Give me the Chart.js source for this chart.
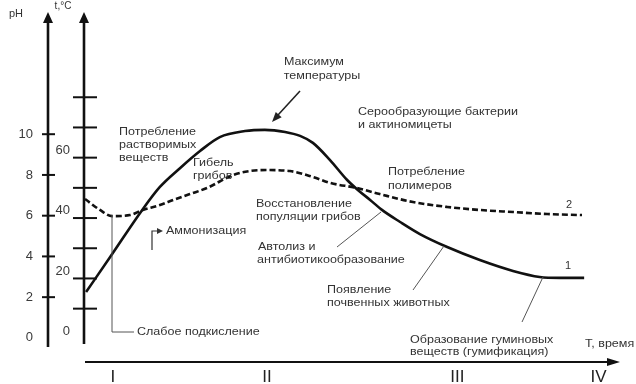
<!DOCTYPE html>
<html>
<head>
<meta charset="utf-8">
<script src="https://cdn.jsdelivr.net/npm/chart.js@4.4.1/dist/chart.umd.min.js"></script>
<style>
html,body{margin:0;padding:0;background:#fff;}
canvas{display:block;}
</style>
</head>
<body>
<canvas id="c" width="636" height="384"></canvas>
<script>
// ---- data ----
// curve 1: temperature, t °C, against time (arbitrary units 0..100)
const timeT = [0.2, 4.7, 10.7, 14.0, 17.8, 21.5, 25.2, 29.9, 33.6, 37.4, 40.2, 42.6, 45.8, 49.0, 51.0, 53.3, 55.5, 58.9, 62.6, 67.7, 73.8, 80.0, 85.0, 88.8, 93.3];
const temperature = [13.1, 24.7, 40.3, 47.9, 54.2, 59.8, 64.4, 66.4, 66.8, 66.1, 64.8, 62.5, 56.8, 50.2, 46.9, 43.6, 40.3, 36.3, 32.3, 28.0, 23.7, 20.1, 18.1, 17.8, 17.8];
// curve 2: pH against time
const timePH = [0.0, 2.8, 5.1, 8.4, 10.8, 14.0, 16.5, 19.6, 22.8, 27.7, 30.8, 34.0, 38.3, 42.6, 45.8, 50.8, 55.1, 61.3, 67.7, 73.8, 80.0, 86.4, 92.9];
const phValues = [6.82, 6.28, 5.98, 6.03, 6.28, 6.52, 6.77, 7.06, 7.36, 8.00, 8.19, 8.24, 8.19, 7.90, 7.61, 7.36, 7.06, 6.67, 6.43, 6.28, 6.18, 6.08, 6.03];
// axis tick labels
const phTickLabels = [0, 2, 4, 6, 8, 10];
const phTickMarks = [2, 4, 6, 8, 10];
const tTickLabels = [0, 20, 40, 60];
const tTickMarks = [7.6, 17.6, 27.6, 37.6, 47.6, 57.6, 67.6, 77.6];
const stages = ['I', 'II', 'III', 'IV'];
const stagePos = [5.2, 34.0, 69.6, 96.0];

// ---- layout / styling ----
const SX = 1.14; // horizontal stretch of annotation text
const FONT = '"Liberation Sans", Arial, sans-serif';
const notes = [
  ['Максимум', 314, 62, 'center'],
  ['температуры', 322, 76, 'center'],
  ['Серообразующие бактерии', 358, 112, 'left'],
  ['и актиномицеты', 358, 125, 'left'],
  ['Потребление', 119, 132, 'left'],
  ['растворимых', 119, 145, 'left'],
  ['веществ', 119, 158, 'left'],
  ['Гибель', 193, 163, 'left'],
  ['грибов', 193, 176, 'left'],
  ['Потребление', 388, 172, 'left'],
  ['полимеров', 388, 186, 'left'],
  ['Восстановление', 256, 204, 'left'],
  ['популяции грибов', 256, 217, 'left'],
  ['Аммонизация', 166, 231, 'left'],
  ['Автолиз и', 258, 247, 'left'],
  ['антибиотикообразование', 257, 260, 'left'],
  ['Появление', 327, 290, 'left'],
  ['почвенных животных', 327, 303, 'left'],
  ['Образование гуминовых', 410, 340, 'left'],
  ['веществ (гумификация)', 410, 352, 'left'],
  ['Слабое подкисление', 137, 332, 'left'],
  ['Т, время', 585, 344, 'left'],
  ['1', 568, 266, 'center'],
  ['2', 569, 205, 'center']
];

function stext(ctx, s, x, y, align, size, color, sx) {
  ctx.save();
  ctx.translate(x, y);
  ctx.scale(sx, 1);
  ctx.font = size + 'px ' + FONT;
  ctx.fillStyle = color;
  ctx.textAlign = align;
  ctx.textBaseline = 'middle';
  ctx.fillText(s, 0, 0);
  ctx.restore();
}
function line(ctx, pts, w, color) {
  ctx.save();
  ctx.strokeStyle = color; ctx.lineWidth = w;
  ctx.beginPath();
  ctx.moveTo(pts[0][0], pts[0][1]);
  for (let i = 1; i < pts.length; i++) ctx.lineTo(pts[i][0], pts[i][1]);
  ctx.stroke();
  ctx.restore();
}
function arrowHead(ctx, x, y, ang, len, half, color) {
  ctx.save();
  ctx.fillStyle = color;
  ctx.translate(x, y); ctx.rotate(ang);
  ctx.beginPath();
  ctx.moveTo(0, 0); ctx.lineTo(-len, -half); ctx.lineTo(-len, half); ctx.closePath();
  ctx.fill();
  ctx.restore();
}

const axesPlugin = {
  id: 'axesPlugin',
  beforeDatasetsDraw(chart) {
    const ctx = chart.ctx;
    const yT = chart.scales.yT, yP = chart.scales.yPH, xs = chart.scales.x;
    const area = chart.chartArea;
    const PX = 48, TX = area.left - 1;
    // pH axis
    line(ctx, [[PX, 347], [PX, 20]], 2.6, '#111');
    arrowHead(ctx, PX, 12, -Math.PI / 2, 11, 5, '#111');
    phTickMarks.forEach(v => {
      const y = yP.getPixelForValue(v);
      line(ctx, [[PX - 6, y], [PX + 7, y]], 2, '#111');
    });
    phTickLabels.forEach(v => {
      stext(ctx, String(v), 33, yP.getPixelForValue(v), 'right', 13, '#3a3a3a', 1);
    });
    // t axis
    line(ctx, [[TX, 344], [TX, 20]], 2.6, '#111');
    arrowHead(ctx, TX, 12, -Math.PI / 2, 11, 5, '#111');
    tTickMarks.forEach(v => {
      const y = yT.getPixelForValue(v);
      line(ctx, [[TX - 11, y], [TX + 13, y]], 2, '#111');
    });
    tTickLabels.forEach(v => {
      stext(ctx, String(v), 70, yT.getPixelForValue(v), 'right', 13, '#3a3a3a', 1);
    });
    stext(ctx, 'pH', 16, 14, 'center', 11, '#333', 1);
    stext(ctx, 't,°C', 63, 6, 'center', 10, '#333', 1);
    // time axis
    const yb = area.bottom;
    line(ctx, [[xs.getPixelForValue(0), yb], [area.right - 8, yb]], 2, '#111');
    arrowHead(ctx, area.right, yb, 0, 13, 4, '#111');
    stages.forEach((s, i) => {
      stext(ctx, s, xs.getPixelForValue(stagePos[i]), 377, 'center', 17, '#222', 1);
    });
  },
  afterDatasetsDraw(chart) {
    const ctx = chart.ctx;
    // pointer lines
    line(ctx, [[112, 215], [112, 332], [134, 332]], 1, '#555');
    line(ctx, [[337, 247], [381, 212]], 1, '#555');
    line(ctx, [[413, 290], [444, 246]], 1, '#555');
    line(ctx, [[522, 322], [543, 277]], 1, '#555');
    // Аммонизация arrow
    line(ctx, [[152, 250], [152, 231], [158, 231]], 1.2, '#333');
    arrowHead(ctx, 163, 231, 0, 6, 3, '#333');
    // Максимум arrow
    line(ctx, [[300, 91], [278, 115]], 1.6, '#222');
    arrowHead(ctx, 272, 122, Math.atan2(31, -28), 10, 4, '#222');
    notes.forEach(n => stext(ctx, n[0], n[1], n[2], n[3], 11, '#333', n[0].length > 1 ? SX : 1));
  }
};

new Chart(document.getElementById('c'), {
  type: 'line',
  data: {
    datasets: [
      {
        label: '1',
        data: timeT.map((x, i) => ({ x: x, y: temperature[i] })),
        yAxisID: 'yT',
        borderColor: '#111',
        borderWidth: 2.6,
        pointRadius: 0,
        cubicInterpolationMode: 'monotone',
        fill: false
      },
      {
        label: '2',
        data: timePH.map((x, i) => ({ x: x, y: phValues[i] })),
        yAxisID: 'yPH',
        borderColor: '#111',
        borderWidth: 2.6,
        borderDash: [6, 3],
        pointRadius: 0,
        cubicInterpolationMode: 'monotone',
        fill: false
      }
    ]
  },
  options: {
    responsive: false,
    animation: false,
    layout: { padding: { left: 85, right: 16, top: 20, bottom: 22 } },
    plugins: { legend: { display: false }, tooltip: { enabled: false } },
    scales: {
      x: { type: 'linear', min: 0, max: 100, display: false },
      yT: { type: 'linear', min: -10.066, max: 103.179, display: false },
      yPH: { type: 'linear', min: -1.183, max: 15.606, display: false }
    }
  },
  plugins: [axesPlugin]
});
</script>
</body>
</html>
